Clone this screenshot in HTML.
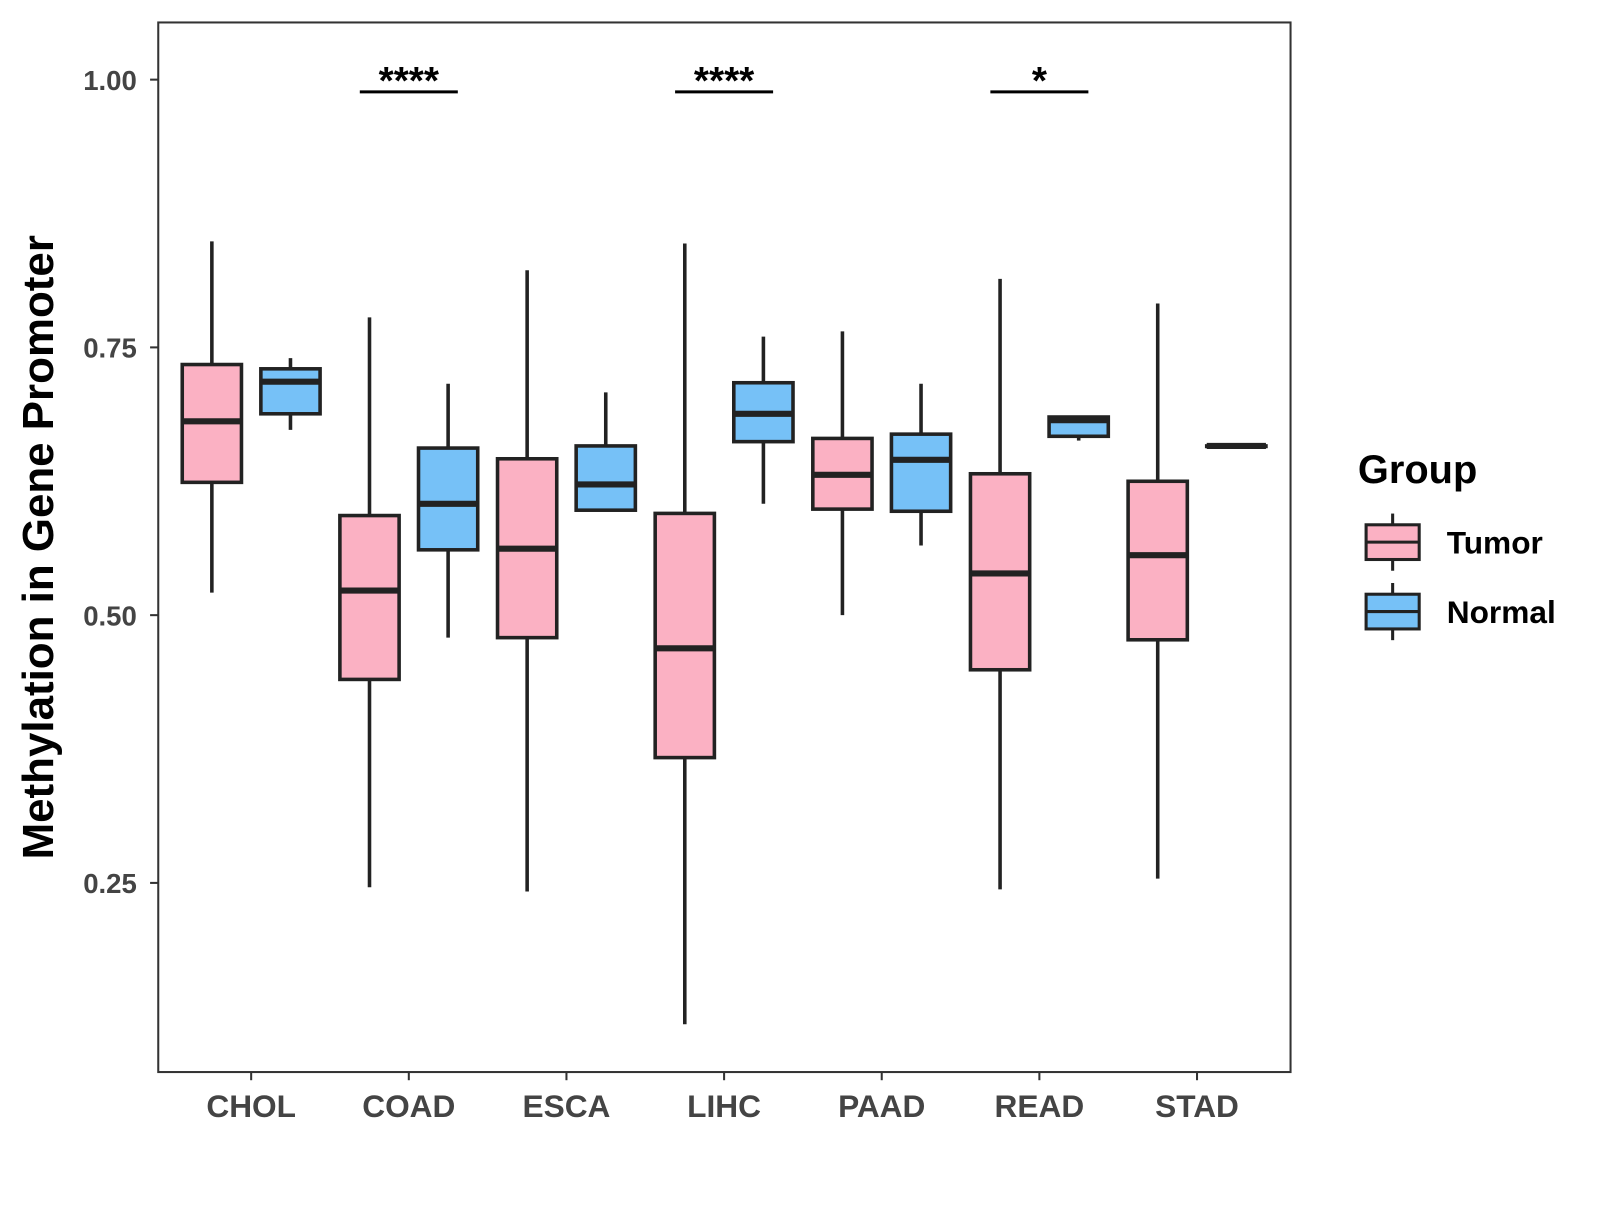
<!DOCTYPE html>
<html><head><meta charset="utf-8"><style>
body{margin:0;background:#fff;}
svg text{font-family:"Liberation Sans",Arial,sans-serif;font-weight:bold;}
</style></head><body>
<svg id="chart" width="1600" height="1200" xmlns="http://www.w3.org/2000/svg">
<rect x="0" y="0" width="1600" height="1200" fill="#fff"/>
<g transform="scale(1.021)">
<g id="marks"></g>
<rect x="155" y="22" width="1109" height="1028" fill="none" stroke="#333" stroke-width="2"/>
<text x="52" y="536" font-size="43" fill="#000" text-anchor="middle" transform="rotate(-90 52 536)">Methylation in Gene Promoter</text>
<text x="1330" y="473" font-size="39" fill="#000">Group</text>
<g>
<line x1="1364" y1="503" x2="1364" y2="559" stroke="#222" stroke-width="3"/>
<rect x="1338" y="514" width="52" height="34" fill="#FBB1C3" stroke="#222" stroke-width="3"/>
<line x1="1338" y1="531" x2="1390" y2="531" stroke="#222" stroke-width="3"/>
<text x="1417" y="542" font-size="31" fill="#000">Tumor</text></g>
<g>
<line x1="1364" y1="571" x2="1364" y2="627" stroke="#222" stroke-width="3"/>
<rect x="1338" y="582" width="52" height="34" fill="#76C1F7" stroke="#222" stroke-width="3"/>
<line x1="1338" y1="599" x2="1390" y2="599" stroke="#222" stroke-width="3"/>
<text x="1417" y="610" font-size="31" fill="#000">Normal</text></g>
</g>
</svg>
<script>
const categories=["CHOL","COAD","ESCA","LIHC","PAAD","READ","STAD"];
// [low, q1, median, q3, high]
const tumorStats=[[0.521,0.624,0.681,0.734,0.849],[0.246,0.440,0.523,0.593,0.778],[0.242,0.479,0.562,0.646,0.822],[0.118,0.367,0.469,0.595,0.847],[0.500,0.599,0.631,0.665,0.765],[0.244,0.449,0.539,0.632,0.814],[0.254,0.477,0.556,0.625,0.791]];
const normalStats=[[0.673,0.688,0.718,0.730,0.740],[0.479,0.561,0.604,0.656,0.716],[0.598,0.598,0.622,0.658,0.708],[0.604,0.662,0.688,0.717,0.760],[0.565,0.597,0.645,0.669,0.716],[0.663,0.667,0.682,0.685,0.686],[0.658,0.658,0.658,0.658,0.658]];
const yTicks=[0.25,0.50,0.75,1.00];
const yTickLabels=["0.25","0.50","0.75","1.00"];
const sigCats=["COAD","LIHC","READ"];
const sigLabels=["****","****","*"];
const NS="http://www.w3.org/2000/svg";
const svg=document.getElementById('marks');
function y(v){return 78+(1-v)*1049;}
function x(i){return 246+i*154.4;}
function mk(tag,a,parent){const e=document.createElementNS(NS,tag);for(const k in a)e.setAttribute(k,a[k]);(parent||svg).appendChild(e);return e;}
yTicks.forEach((t,i)=>{
 const l=mk('line',{x1:147,x2:155,y1:y(t),y2:y(t),stroke:'#333','stroke-width':2});
 
 
 const tx=mk('text',{x:134,y:y(t)+10,'font-size':27,fill:'#444','text-anchor':'end'});
 tx.textContent=yTickLabels[i];
 
 
});
categories.forEach((c,i)=>{
 const l=mk('line',{x1:x(i),x2:x(i),y1:1050,y2:1058,stroke:'#333','stroke-width':2});
 
 
 const tx=mk('text',{x:x(i),y:1094,'font-size':31,fill:'#444','text-anchor':'middle'});
 tx.textContent=c;
 
 
});
function box(cx,s,fill,name){
 const g=mk('g',{});
 
 
 mk('line',{x1:cx,x2:cx,y1:y(s[0]),y2:y(s[4]),stroke:'#222','stroke-width':3.5},g);
 mk('rect',{x:cx-29,y:y(s[3]),width:58,height:Math.max(y(s[1])-y(s[3]),0.5),fill:fill,stroke:'#222','stroke-width':3.5},g);
 mk('line',{x1:cx-29,x2:cx+29,y1:y(s[2]),y2:y(s[2]),stroke:'#222','stroke-width':6},g);
}
categories.forEach((c,i)=>{
 box(x(i)-38.5,tumorStats[i],'#FBB1C3','box-tumor-'+c.toLowerCase());
 box(x(i)+38.5,normalStats[i],'#76C1F7','box-normal-'+c.toLowerCase());
});
sigCats.forEach((c,j)=>{
 const i=categories.indexOf(c);
 const l=mk('line',{x1:x(i)-48,x2:x(i)+48,y1:90,y2:90,stroke:'#000','stroke-width':3});
 
 
 const t=mk('text',{x:x(i),y:92,'font-size':38,fill:'#000','text-anchor':'middle'});
 t.textContent=sigLabels[j];
 
 
});
</script>
</body></html>
